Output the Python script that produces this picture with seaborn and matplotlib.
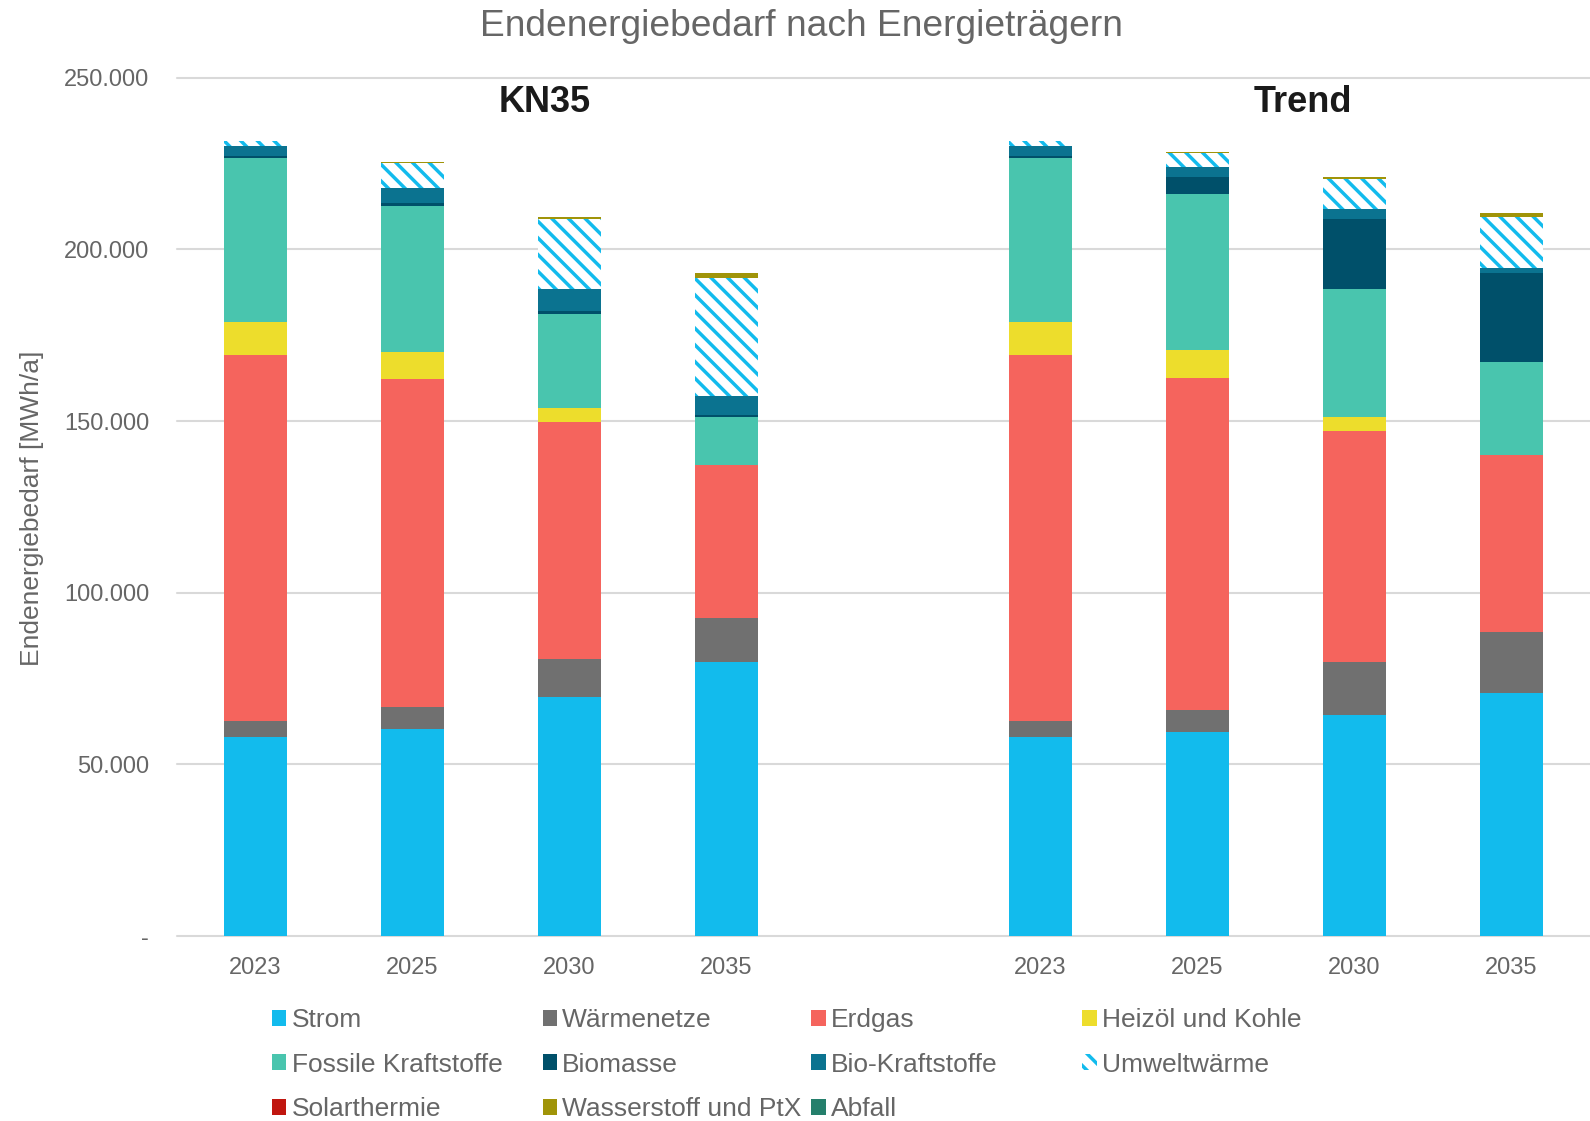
import matplotlib
matplotlib.use("Agg")
import matplotlib.pyplot as plt
import pandas as pd
import seaborn as sns
from matplotlib.ticker import FuncFormatter

# Data (MWh/a) - first four bars KN35, last four Trend
years = ["2023", "2025", "2030", "2035"]
scenarios = ["KN35", "Trend"]

strom = [58000, 60200, 69600, 79700, 58000, 59300, 64400, 70700]
waermenetze = [4700, 6400, 11000, 13000, 4700, 6400, 15500, 17800]
erdgas = [106600, 95600, 69200, 44500, 106600, 96900, 67300, 51700]
heizoel_kohle = [9600, 7900, 4000, 0, 9600, 8000, 4100, 0]
fossile_kraftstoffe = [47800, 42500, 27500, 14000, 47800, 45500, 37100, 27100]
biomasse = [500, 800, 600, 600, 500, 5100, 20500, 25900]
bio_kraftstoffe = [3000, 4400, 6600, 5600, 3000, 2800, 2900, 1400]
umweltwaerme = [1400, 7300, 20300, 34200, 1400, 4200, 8800, 14700]
solarthermie = [0, 0, 0, 0, 0, 0, 0, 0]
wasserstoff = [0, 300, 600, 1400, 0, 300, 500, 1300]
abfall = [0, 0, 0, 0, 0, 0, 0, 0]

series = {
    "Strom": strom,
    "Wärmenetze": waermenetze,
    "Erdgas": erdgas,
    "Heizöl und Kohle": heizoel_kohle,
    "Fossile Kraftstoffe": fossile_kraftstoffe,
    "Biomasse": biomasse,
    "Bio-Kraftstoffe": bio_kraftstoffe,
    "Umweltwärme": umweltwaerme,
    "Solarthermie": solarthermie,
    "Wasserstoff und PtX": wasserstoff,
    "Abfall": abfall,
}
colors = ["#12BBED", "#707070", "#F5645D", "#EDDD2C", "#49C5AE", "#00506A",
          "#0B7390", "#12BBED", "#C0160F", "#A09409", "#257F6C"]
hatched = "Umweltwärme"

grey = "#666666"

if __name__ == "__main__":
    # build the table, with an empty slot between the two scenarios
    df = pd.DataFrame(series)
    gap = pd.DataFrame({k: [0] for k in series})
    df = pd.concat([df.iloc[:4], gap, df.iloc[4:]], ignore_index=True)
    df.index = years + [""] + years

    sns.set_theme(style="white")
    plt.rcParams["font.family"] = ["Liberation Sans", "DejaVu Sans"]
    plt.rcParams["hatch.linewidth"] = 2.5
    plt.rcParams["hatch.color"] = colors[7]

    fig = plt.figure(figsize=(15.9, 11.21), dpi=100)
    ax = fig.add_axes([0.1113, 0.165, 0.8887, 0.7657])
    df.plot(kind="bar", stacked=True, width=0.4, color=colors, ax=ax,
            legend=False, linewidth=0)

    # hatch for Umweltwärme
    names = list(series.keys())
    for patch in ax.containers[names.index(hatched)]:
        patch.set_facecolor("white")
        patch.set_edgecolor(colors[7])
        patch.set_hatch("\\\\")

    # axes styling
    ax.set_xlim(-0.5, 8.5)
    ax.set_ylim(0, 250000)
    ax.set_yticks(range(0, 250001, 50000))
    ax.yaxis.set_major_formatter(FuncFormatter(
        lambda v, p: "-" if v == 0 else f"{int(v):,}".replace(",", ".")))
    ax.set_axisbelow(True)
    ax.yaxis.grid(True, color="#D9D9D9", linewidth=1.5)
    ax.xaxis.grid(False)
    for line in ax.get_ygridlines():
        line.set_clip_on(False)
    for spine in ax.spines.values():
        spine.set_visible(False)
    ax.tick_params(axis="x", length=0, pad=15, labelsize=17, labelcolor=grey, rotation=0)
    ax.tick_params(axis="y", length=0, pad=20, labelsize=17, labelcolor=grey)
    ax.set_xlabel("")

    # scenario headers
    for name, xpos in zip(scenarios, [1.84, 6.67]):
        ax.text(xpos, 242800, name, ha="center", va="center", fontsize=26,
                fontweight="bold", color="#1a1a1a")

    fig.text(0.504, 0.9768, "Endenergiebedarf nach Energieträgern", ha="center",
             va="center", fontsize=26.7, color=grey)
    fig.text(32.5 / 1590, 1 - 508 / 1121, "Endenergiebedarf [MWh/a]", rotation=90,
             ha="center", va="center", fontsize=19, color=grey)

    # legend: four columns with equal spacing
    handles = ax.containers
    cols = [[0, 4, 8], [1, 5, 9], [2, 6, 10], [3, 7]]
    for col, x in zip(cols, [271.8, 542.5, 811.2, 1082]):
        fig.legend([handles[i] for i in col], [names[i] for i in col],
                   loc="upper left", bbox_to_anchor=(x / 1590, 0.1007),
                   frameon=False, fontsize=19, handlelength=0.55,
                   handleheight=0.55, handletextpad=0.2, labelspacing=0.78,
                   borderpad=0, borderaxespad=0, labelcolor=grey)

    plt.savefig("out.png", dpi=100)
    plt.close()
